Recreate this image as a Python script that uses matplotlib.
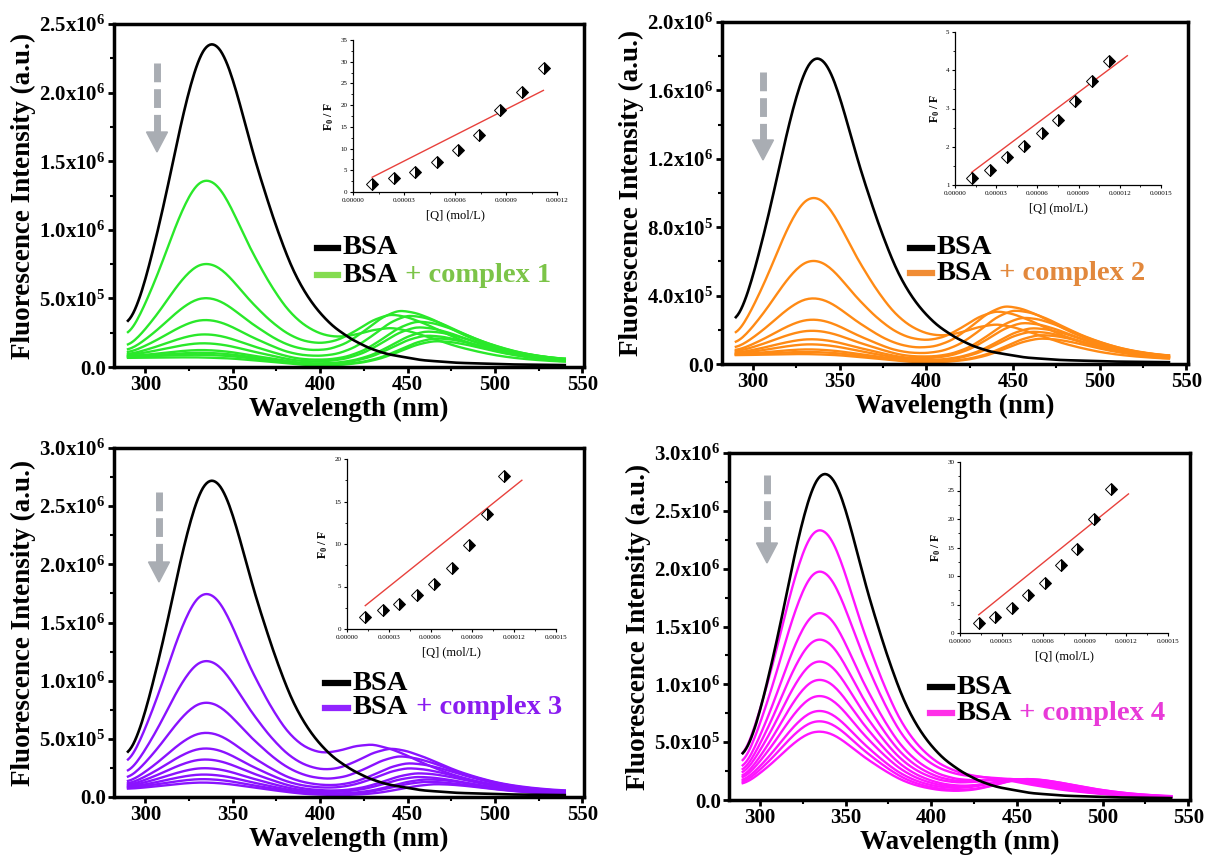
import numpy as np
import matplotlib
matplotlib.use('Agg')
import matplotlib.pyplot as plt
from matplotlib.lines import Line2D
from matplotlib.patches import Polygon
from matplotlib.ticker import MultipleLocator, FuncFormatter

plt.rcParams['font.family'] = ['Liberation Serif', 'DejaVu Serif']
plt.rcParams['mathtext.fontset'] = 'custom'
plt.rcParams['mathtext.rm'] = 'Liberation Serif'
plt.rcParams['mathtext.bf'] = 'Liberation Serif:bold'
plt.rcParams['mathtext.it'] = 'Liberation Serif:italic'

W, H = 1207, 866

# wavelength grid of the spectra (nm)
wl = np.arange(290, 541)

band1_off = [-55, -50, -45, -40, -35, -30, -25, -20, -15, -10, -5, 0, 5, 10, 15, 20, 25, 30,
             35, 40, 45, 50, 55, 60, 65, 70, 80, 90, 100, 120, 140, 170, 215]
band1_val = [0.09, 0.115, 0.16, 0.23, 0.33, 0.44, 0.56, 0.69, 0.81, 0.91, 0.98, 1.0, 0.98, 0.92,
             0.83, 0.73, 0.63, 0.545, 0.46, 0.385, 0.315, 0.26, 0.215, 0.178, 0.148, 0.122,
             0.085, 0.058, 0.04, 0.021, 0.013, 0.008, 0.005]
band2_off = [-70, -60, -50, -40, -30, -20, -10, 0, 10, 20, 30, 40, 50, 60, 70, 80, 90, 100, 120]
band2_val = [0.0, 0.03, 0.08, 0.17, 0.33, 0.58, 0.85, 1.0, 0.96, 0.84, 0.68, 0.53, 0.41, 0.31,
             0.24, 0.19, 0.155, 0.13, 0.09]
uv_wl = [290, 310, 330, 350, 370, 390, 410, 430, 540]
uv_val = [1.0, 0.98, 0.93, 0.82, 0.55, 0.22, 0.06, 0.0, 0.0]

# BSA alone: peak intensity (x10^6) and position
bsa_peak = [2.37, 1.80, 2.74, 2.84]
bsa_center = [338, 337, 338, 338]

# BSA + complex, one entry per addition (x10^6)
c1_band1 = [1.35, 0.72, 0.46, 0.29, 0.18, 0.11, 0.06, 0.04, 0.025, 0.01]
c1_bg = [0.02, 0.04, 0.05, 0.06, 0.065, 0.07, 0.07, 0.07, 0.07, 0.065]
c1_band2 = [0.24, 0.36, 0.40, 0.37, 0.33, 0.29, 0.26, 0.23, 0.21, 0.19]
c1_pos2 = [440, 440, 445, 450, 455, 455, 460, 460, 465, 465]

c2_band1 = [0.96, 0.58, 0.35, 0.22, 0.15, 0.10, 0.07, 0.04, 0.025, 0.012]
c2_bg = [0.02, 0.03, 0.04, 0.045, 0.05, 0.05, 0.05, 0.05, 0.05, 0.05]
c2_band2 = [0.20, 0.29, 0.33, 0.31, 0.27, 0.24, 0.21, 0.19, 0.17, 0.15]
c2_pos2 = [440, 440, 445, 450, 455, 455, 460, 460, 465, 465]

c3_band1 = [1.74, 1.15, 0.78, 0.51, 0.37, 0.27, 0.19, 0.135, 0.095, 0.07]
c3_bg = [0.02, 0.03, 0.04, 0.05, 0.055, 0.06, 0.065, 0.065, 0.065, 0.06]
c3_band2 = [0.37, 0.38, 0.33, 0.28, 0.24, 0.20, 0.17, 0.15, 0.13, 0.11]
c3_pos2 = [430, 440, 445, 450, 450, 455, 455, 460, 460, 465]

c4_band1 = [2.35, 1.99, 1.61, 1.37, 1.17, 1.01, 0.86, 0.73, 0.64, 0.55]
c4_bg = [0.0, 0.0, 0.02, 0.03, 0.04, 0.04, 0.05, 0.05, 0.05, 0.05]
c4_band2 = [0.10, 0.12, 0.13, 0.14, 0.15, 0.15, 0.16, 0.16, 0.17, 0.17]
c4_pos2 = [440, 440, 445, 445, 445, 450, 450, 450, 455, 455]

# Stern-Volmer insets
q1 = [1.13e-5, 2.42e-5, 3.67e-5, 4.94e-5, 6.18e-5, 7.43e-5, 8.67e-5, 9.92e-5, 1.121e-4]
f1 = [1.9, 3.2, 4.7, 6.8, 9.6, 13.2, 18.8, 23.1, 28.6]
fit1_q, fit1_f = [1.13e-5, 1.12e-4], [3.4, 23.4]
q2 = [1.21e-5, 2.55e-5, 3.81e-5, 5.05e-5, 6.31e-5, 7.52e-5, 8.74e-5, 9.98e-5, 1.124e-4]
f2 = [1.18, 1.40, 1.73, 2.03, 2.36, 2.71, 3.20, 3.71, 4.25]
fit2_q, fit2_f = [1.21e-5, 1.255e-4], [1.33, 4.38]
q3 = [1.31e-5, 2.57e-5, 3.76e-5, 5.02e-5, 6.27e-5, 7.53e-5, 8.78e-5, 1.004e-4, 1.129e-4]
f3 = [1.47, 2.18, 2.89, 3.96, 5.27, 7.13, 9.9, 13.5, 18.0]
fit3_q, fit3_f = [1.31e-5, 1.255e-4], [2.75, 17.5]
q4 = [1.35e-5, 2.49e-5, 3.73e-5, 4.91e-5, 6.10e-5, 7.29e-5, 8.47e-5, 9.66e-5, 1.092e-4]
f4 = [1.76, 2.76, 4.4, 6.6, 8.8, 11.9, 14.8, 20.0, 25.2]
fit4_q, fit4_f = [1.35e-5, 1.215e-4], [3.2, 24.4]

panels = [
    dict(band1=c1_band1, bg=c1_bg, band2=c1_band2, pos2=c1_pos2, q=q1, f=f1, fq=fit1_q, ff=fit1_f,
         label='complex 1', color='#2ae82a', lcolor='#84dc50', tcolor='#7cc448',
         ymax=2.5e6, ystep=5e5, box=(114, 584, 24, 367), inset=(353, 557, 40, 192),
         qmax=1.2e-4, fmin=0, fmax=35, fstep=5, leg=(317, 338, 248, 275), arrow=(157, 63, 152)),
    dict(band1=c2_band1, bg=c2_bg, band2=c2_band2, pos2=c2_pos2, q=q2, f=f2, fq=fit2_q, ff=fit2_f,
         label='complex 2', color='#ff8a14', lcolor='#f08c34', tcolor='#e2883c',
         ymax=2.0e6, ystep=4e5, box=(722, 1188, 22, 364), inset=(955, 1161, 32, 185),
         qmax=1.5e-4, fmin=1, fmax=5, fstep=1, leg=(910, 932, 248, 273), arrow=(763, 72, 160)),
    dict(band1=c3_band1, bg=c3_bg, band2=c3_band2, pos2=c3_pos2, q=q3, f=f3, fq=fit3_q, ff=fit3_f,
         label='complex 3', color='#8a12ff', lcolor='#9224ff', tcolor='#8a1cf0',
         ymax=3.0e6, ystep=5e5, box=(114, 584, 448, 797), inset=(347, 556, 459, 629),
         qmax=1.5e-4, fmin=0, fmax=20, fstep=5, leg=(325, 348, 683, 708), arrow=(159, 492, 582)),
    dict(band1=c4_band1, bg=c4_bg, band2=c4_band2, pos2=c4_pos2, q=q4, f=f4, fq=fit4_q, ff=fit4_f,
         label='complex 4', color='#ff14ff', lcolor='#ff30e8', tcolor='#e83ad8',
         ymax=3.0e6, ystep=5e5, box=(729, 1190, 453, 800), inset=(960, 1168, 462, 633),
         qmax=1.5e-4, fmin=0, fmax=30, fstep=5, leg=(930, 952, 687, 713), arrow=(767, 475, 563)),
]

# light smoothing so the 5 nm readings do not show as corners
kernel = np.array([1, 2, 3, 4, 5, 6, 5, 4, 3, 2, 1], dtype=float)
kernel /= kernel.sum()


def band(a1, c1, bg=0.0, a2=0.0, c2=450):
    y = a1 * np.interp(wl - c1, band1_off, band1_val, left=0, right=band1_val[-1])
    y = y + bg * np.interp(wl, uv_wl, uv_val)
    y = y + a2 * np.interp(wl - c2, band2_off, band2_val, left=0, right=band2_val[-1])
    n = len(kernel) // 2
    y = np.convolve(np.pad(y, n, mode='edge'), kernel, mode='valid')
    return y * 1e6


def sci(v, pos):
    if v <= 0:
        return '0.0'
    e = int(np.floor(np.log10(v) + 1e-9))
    return '%.1fx10$^{\\mathbf{%d}}$' % (v / 10 ** e, e)


fig = plt.figure(figsize=(W / 100, H / 100), dpi=100)


def add_px_axes(l, r, t, b):
    return fig.add_axes([l / W, 1 - b / H, (r - l) / W, (b - t) / H])


for i, p in enumerate(panels):
    ax = add_px_axes(*p['box'])
    ax.plot(wl, band(bsa_peak[i], bsa_center[i]), color='black', lw=1.9, zorder=3)
    for a1, bg, a2, c2 in zip(p['band1'], p['bg'], p['band2'], p['pos2']):
        ax.plot(wl, band(a1, 335, bg, a2, c2), color=p['color'], lw=1.7, zorder=2)
    ax.set_xlim(282, 551)
    ax.set_ylim(0, p['ymax'])
    ax.xaxis.set_major_locator(MultipleLocator(50))
    ax.xaxis.set_minor_locator(MultipleLocator(25))
    ax.yaxis.set_major_locator(MultipleLocator(p['ystep']))
    ax.yaxis.set_minor_locator(MultipleLocator(p['ystep'] / 2))
    ax.yaxis.set_major_formatter(FuncFormatter(sci))
    ax.tick_params(which='major', direction='out', length=4, width=2, labelsize=15, pad=2)
    ax.tick_params(which='minor', direction='out', length=3, width=1.5)
    for lab in ax.get_xticklabels() + ax.get_yticklabels():
        lab.set_fontweight('bold')
    for s in ax.spines.values():
        s.set_linewidth(2.5)
    ax.set_xlabel('Wavelength (nm)', fontsize=19.5, fontweight='bold', labelpad=1)
    ax.set_ylabel('Fluorescence Intensity (a.u.)', fontsize=19.5, fontweight='bold', labelpad=2)

    # legend drawn by hand
    x0, x1, y1, y2 = p['leg']
    fig.add_artist(Line2D([x0 / W, x1 / W], [1 - y1 / H] * 2, color='black', lw=4.5,
                          transform=fig.transFigure))
    fig.add_artist(Line2D([x0 / W, x1 / W], [1 - y2 / H] * 2, color=p['lcolor'], lw=4.5,
                          transform=fig.transFigure))
    fig.text((x1 + 5) / W, 1 - y1 / H, 'BSA', fontsize=20.5, fontweight='bold', va='center')
    t2 = fig.text((x1 + 5) / W, 1 - y2 / H, 'BSA', fontsize=20.5, fontweight='bold', va='center')
    ax.annotate(' + ' + p['label'], xy=(1, 0), xycoords=t2, va='bottom', ha='left',
                fontsize=20.5, fontweight='bold', color=p['tcolor'], annotation_clip=False)

    # grey dashed arrow
    ax_x, ay0, ay1 = p['arrow']
    grey = '#a9adb3'
    head = 20
    fig.add_artist(Line2D([ax_x / W] * 2, [1 - ay0 / H, 1 - (ay1 - head) / H], color=grey,
                          lw=5, dashes=(2.7, 1.0), solid_capstyle='butt',
                          dash_capstyle='butt', transform=fig.transFigure))
    fig.add_artist(Polygon([[(ax_x - 10.5) / W, 1 - (ay1 - head) / H],
                            [(ax_x + 10.5) / W, 1 - (ay1 - head) / H],
                            [ax_x / W, 1 - ay1 / H]], closed=True, color=grey,
                           transform=fig.transFigure))

    # Stern-Volmer inset
    ins = add_px_axes(*p['inset'])
    ins.plot(p['fq'], p['ff'], color='#e8413c', lw=1.0)
    ins.plot(p['q'], p['f'], ls='none', marker='D', markersize=6.3, fillstyle='right',
             markerfacecolor='black', markerfacecoloralt='white', markeredgecolor='black',
             markeredgewidth=0.7)
    ins.set_xlim(0, p['qmax'])
    ins.set_ylim(p['fmin'], p['fmax'])
    ins.xaxis.set_major_locator(MultipleLocator(3e-5))
    ins.xaxis.set_minor_locator(MultipleLocator(1.5e-5))
    ins.yaxis.set_major_locator(MultipleLocator(p['fstep']))
    ins.yaxis.set_minor_locator(MultipleLocator(p['fstep'] / 2))
    ins.xaxis.set_major_formatter(FuncFormatter(lambda v, pos: '%.5f' % abs(v)))
    ins.yaxis.set_major_formatter(FuncFormatter(lambda v, pos: '%d' % round(v)))
    ins.tick_params(which='major', direction='out', length=2.5, width=0.8, labelsize=5, pad=1.5)
    ins.tick_params(which='minor', direction='out', length=1.5, width=0.6)
    ins.spines['top'].set_visible(False)
    ins.spines['right'].set_visible(False)
    ins.spines['left'].set_linewidth(0.9)
    ins.spines['bottom'].set_linewidth(0.9)
    ins.patch.set_alpha(0)
    ins.set_xlabel('[Q] (mol/L)', fontsize=9, labelpad=5)
    ins.set_ylabel('F$_{\\mathbf{0}}$ / F', fontsize=8.5, fontweight='bold', labelpad=3)

fig.savefig('out.png', dpi=100)
